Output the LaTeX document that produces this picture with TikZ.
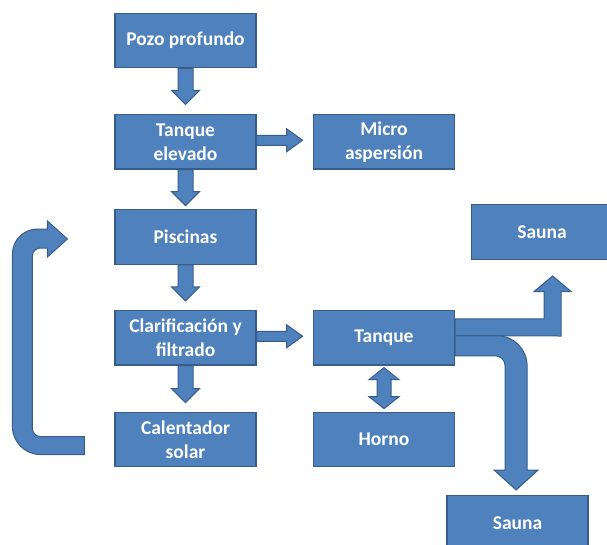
\documentclass[tikz,border=0pt]{standalone}
\usepackage{fontspec}
\setmainfont{Carlito}
\usetikzlibrary{calc,backgrounds}
\definecolor{boxblue}{HTML}{4F81BD}
\definecolor{boxline}{HTML}{385D8A}
\tikzset{
  box/.style={draw=boxline, fill=boxblue, line width=1.2pt, minimum width=141pt,
    minimum height=54.5pt, inner sep=0pt, align=center, text=white,
    font=\fontsize{19.5}{24}\selectfont\bfseries},
  barrow/.style={draw=boxline, fill=boxblue, line width=1pt, line join=miter},
}
\newcommand\vblock[2]{%
  \draw[barrow] ($(#1)+(-7.5,0)$) -- ($(#1)+(-7.5,#2-14)$) -- ($(#1)+(-14,#2-14)$)
    -- ($(#1)+(0,#2)$) -- ($(#1)+(14,#2-14)$) -- ($(#1)+(7.5,#2-14)$)
    -- ($(#1)+(7.5,0)$) -- cycle;}
\newcommand\hblock[2]{%
  \draw[barrow] ($(#1)+(0,-6.5)$) -- ($(#1)+(#2-16,-6.5)$) -- ($(#1)+(#2-16,-13)$)
    -- ($(#1)+(#2,-1.5)$) -- ($(#1)+(#2-16,10)$) -- ($(#1)+(#2-16,3.5)$)
    -- ($(#1)+(0,3.5)$) -- cycle;}
\begin{document}
\begin{tikzpicture}[x=1pt,y=-1pt]
\useasboundingbox (0,0) rectangle (607,544);
\node[box] (pozo)  at (185.5,40.5)   {Pozo profundo};
\node[box] (tel)   at (185.5,141.75) {Tanque\\elevado};
\node[box] (micro) at (384,141.75)   {Micro\\aspersión};
\node[box] (pis)   at (185.5,237)    {Piscinas};
\node[box] (clar)  at (185.5,337.75) {Clarificación y\\filtrado};
\node[box] (tq)    at (384,337.75)   {Tanque};
\node[box] (cal)   at (185.5,439.5)  {Calentador\\solar};
\node[box] (horno) at (384,439.5)    {Horno};
\node[box] (sauA)  at (542,232)      {Sauna};
\node[box] (sauB)  at (517.5,522.75) {Sauna};
\begin{pgfonlayer}{background}
\vblock{pozo.south}{36}
\vblock{tel.south}{36}
\vblock{pis.south}{36}
\vblock{clar.south}{37}
\hblock{tel.east}{46}
\hblock{clar.east}{46}
% double arrow Tanque <-> Horno
\coordinate (da) at ($(tq.south)+(0,2)$);
\coordinate (db) at ($(horno.north)+(0,-3)$);
\draw[barrow] (da) -- ++(15,12) -- ++(-8,0) -- ($(db)+(7,-12)$) -- ++(8,0) -- (db)
  -- ++(-15,-12) -- ++(8,0) -- ($(da)+(-7,12)$) -- ++(-8,0) -- cycle;
% elbow arrow up to Sauna
\draw[barrow] ($(tq.east)+(0,-19)$) -- ++(89,0) -- ++(0,-27.25) -- ++(-10,0)
  -- ++(18.5,-15.5) -- ++(18.5,15.5) -- ++(-10,0) -- ++(0,44.5)
  -- ($(tq.east)+(0,-2)$) -- cycle;
% curved arrow down to Sauna
\draw[barrow] ($(tq.east)+(0,-2)$) -- ++(42,0) arc[start angle=-90,end angle=0,radius=30]
  -- ++(0,104.25) -- ++(11,0) -- ++(-22,20) -- ++(-22,-20) -- ++(11,0)
  -- ++(0,-104.25) arc[start angle=0,end angle=-90,radius=10]
  -- ($(tq.east)+(0,18)$) -- cycle;
% return loop from Calentador to Piscinas
\draw[barrow] ($(cal.west)+(-30,15)$) -- ++(-44,0) arc[start angle=90,end angle=180,radius=28]
  -- ++(0,-172.5) arc[start angle=180,end angle=270,radius=25]
  -- ++(10,0) -- ++(0,-8) -- ++(20,18) -- ++(-20,18) -- ++(0,-9) -- ++(-7,0)
  arc[start angle=270,end angle=180,radius=8]
  -- ++(0,172.5) arc[start angle=180,end angle=90,radius=8]
  -- ($(cal.west)+(-30,-3)$) -- cycle;
\end{pgfonlayer}
\end{tikzpicture}
\end{document}
